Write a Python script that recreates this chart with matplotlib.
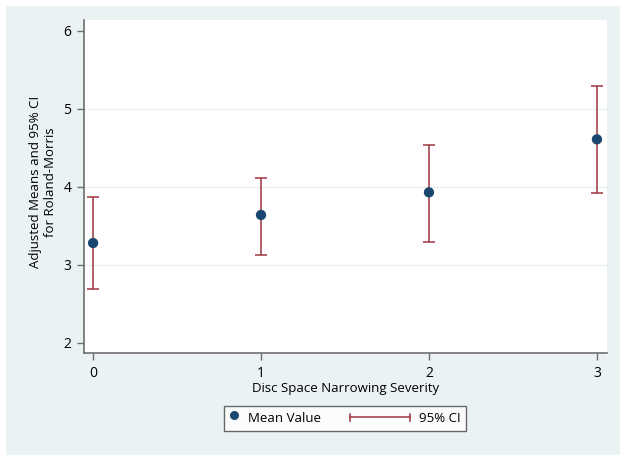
import matplotlib
matplotlib.use("Agg")
import matplotlib.pyplot as plt
from matplotlib.patches import Rectangle
from matplotlib.lines import Line2D
from matplotlib.legend_handler import HandlerBase

plt.rcParams['font.family'] = ['Open Sans', 'DejaVu Sans']

severity = [0, 1, 2, 3]
means = [3.28, 3.64, 3.93, 4.61]
ci_low = [2.69, 3.13, 3.29, 3.92]
ci_high = [3.87, 4.12, 4.54, 5.29]
yticks = [2, 3, 4, 5, 6]
xlabel = "Disc Space Narrowing Severity"
ylabel = "Adjusted Means and 95% CI\nfor Roland-Morris"

W, H = 629, 461
FS = 9.5
PX = 72 / 100  # points per pixel
fig = plt.figure(figsize=(W / 100, H / 100), dpi=100)
fig.patch.set_facecolor('white')
bg = Rectangle((6 / W, 6 / H), (620 - 6) / W, (455 - 6) / H, transform=fig.transFigure,
               facecolor='#eaf2f3', edgecolor='none', zorder=-10)
fig.patches.append(bg)

ax = fig.add_axes([84 / W, 1 - 353 / H, (607 - 84) / W, (353 - 20) / H])
ax.set_facecolor('white')

navy = '#1a476f'
maroon = '#a0353e'

yerr = [[m - l for m, l in zip(means, ci_low)], [h - m for m, h in zip(means, ci_high)]]
ax.errorbar(severity, means, yerr=yerr, fmt='none', ecolor=maroon, elinewidth=1.1,
            capsize=4, capthick=1.1, zorder=2)
ax.scatter(severity, means, s=55, color=navy, zorder=3, edgecolors='none')

ax.set_xlim(-0.054, 3.06)
ax.set_ylim(1.87, 6.14)
ax.set_xticks(severity)
ax.set_yticks(yticks)
for y in [3, 4, 5]:
    ax.axhline(y, color='#eaf2f3', lw=1, zorder=0)

for s in ['top', 'right']:
    ax.spines[s].set_visible(False)
for s in ['left', 'bottom']:
    ax.spines[s].set_color('#6e6e6e')
    ax.spines[s].set_linewidth(1.2)
ax.tick_params(axis='both', direction='out', length=5, width=1, color='#6e6e6e',
               labelsize=10, labelcolor='black')
ax.tick_params(axis='x', pad=4)
ax.tick_params(axis='y', pad=4)

ax.set_xlabel(xlabel, fontsize=FS, labelpad=1)
ax.set_ylabel(ylabel, fontsize=FS, linespacing=1.25)
ax.yaxis.set_label_coords((57 - 84) / 523, (353 - 182) / 333)


class HandlerCI(HandlerBase):
    def create_artists(self, legend, orig_handle, xdescent, ydescent, width, height,
                       fontsize, trans):
        y = height / 2 - ydescent
        x1 = width - xdescent
        x0 = x1 - 60 * PX
        cap = 3.5 * PX
        line = Line2D([x0, x1], [y, y], color=maroon, lw=1.1, transform=trans)
        c1 = Line2D([x0, x0], [y - cap, y + cap], color=maroon, lw=1.1, transform=trans)
        c2 = Line2D([x1, x1], [y - cap, y + cap], color=maroon, lw=1.1, transform=trans)
        return [line, c1, c2]


class HandlerDot(HandlerBase):
    def create_artists(self, legend, orig_handle, xdescent, ydescent, width, height,
                       fontsize, trans):
        y = height / 2 - ydescent + 1.5
        x = width / 2 - xdescent
        m = Line2D([x], [y], marker='o', linestyle='none', color=navy, markersize=6.5,
                   markeredgewidth=0, transform=trans)
        return [m]


mean_handle = Line2D([], [], marker='o', linestyle='none', color=navy)
ci_handle = Line2D([], [], color=maroon)
leg = fig.legend([mean_handle, ci_handle], ['Mean Value', '95% CI'],
                 handler_map={ci_handle: HandlerCI(), mean_handle: HandlerDot()},
                 loc='center', bbox_to_anchor=(345 / W, 1 - 418.5 / H), ncol=2,
                 frameon=True, fancybox=False, fontsize=FS, handlelength=0.7,
                 columnspacing=6.05, handletextpad=0.68, borderpad=0.42, borderaxespad=0)
leg.get_frame().set_edgecolor('#444444')
leg.get_frame().set_linewidth(1)
leg.get_frame().set_facecolor('white')

fig.savefig('out.png', dpi=100)
